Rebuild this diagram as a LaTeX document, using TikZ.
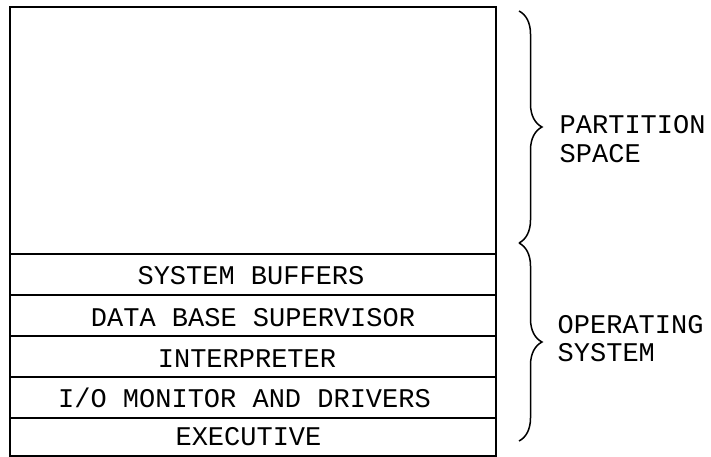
\documentclass[tikz,border=0pt]{standalone}
\usepackage{fontspec}
\newfontfamily\lett{Liberation Mono}
\usetikzlibrary{decorations.pathreplacing}
\tikzset{
  layer/.style={draw, line width=1.8pt, minimum width=486pt, minimum height=#1, inner sep=0pt},
  ltext/.style={font=\lett\fontsize{27}{29}\selectfont, inner sep=0pt, text height=19pt, text depth=0pt},
  lbl/.style={font=\lett\fontsize{27}{29}\selectfont, inner sep=0pt, anchor=base west},
  bracestyle/.style={draw, line width=1.5pt, decorate, decoration={brace, amplitude=23pt}}
}
\begin{document}
\begin{tikzpicture}[x=1pt,y=-1pt]
\useasboundingbox (0,0) rectangle (711,457);
\node[layer=247pt] (part) at (253,130.5) {};
\node[layer=41pt] (sb) at (253,274.5) {};
\node[layer=41pt] (dbs) at (253,315.5) {};
\node[layer=41pt] (int) at (253,356.5) {};
\node[layer=41pt] (io) at (253,397.5) {};
\node[layer=38pt] (exe) at (253,437) {};
\node[ltext] (tsb) at ([xshift=-2pt]sb.center) {SYSTEM BUFFERS};
\node[ltext] (tdbs) at ([xshift=0pt,yshift=-1pt]dbs.center) {DATA BASE SUPERVISOR};
\node[ltext] (tint) at ([xshift=-6pt,yshift=-1pt]int.center) {INTERPRETER};
\node[ltext] (tio) at ([xshift=-8.5pt]io.center) {I/O MONITOR AND DRIVERS};
\node[ltext] (texe) at ([xshift=-4.5pt,yshift=1.5pt]exe.center) {EXECUTIVE};
\coordinate (b1) at (519,11);
\coordinate (b2) at (519,243);
\coordinate (b3) at (519,441);
\path[bracestyle] (b1) -- (b2);
\path[bracestyle] (b2) -- (b3);
\node[lbl] (ps1) at (559.5,134) {PARTITION};
\node[lbl] (ps2) at (559.5,163) {SPACE};
\node[lbl] (os1) at (557.5,333) {OPERATING};
\node[lbl] (os2) at (557.5,361) {SYSTEM};
\end{tikzpicture}
\end{document}
